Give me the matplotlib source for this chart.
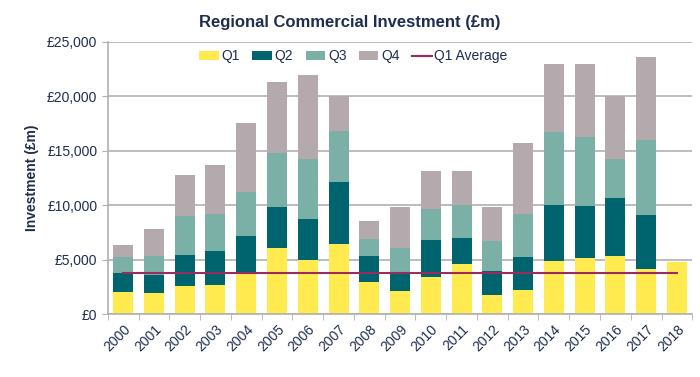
import matplotlib
matplotlib.use("Agg")
import matplotlib.pyplot as plt
import numpy as np
from matplotlib.ticker import FuncFormatter, MultipleLocator

plt.rcParams['font.family'] = ['Liberation Sans', 'DejaVu Sans']

years = [str(y) for y in range(2000, 2019)]
q1 = [2020, 1930, 2570, 2670, 3770, 6070, 4990, 6470, 2970, 2110, 3400, 4600, 1750, 2240, 4900, 5150, 5360, 4110, 4780]
q2 = [1750, 1690, 2880, 3160, 3400, 3800, 3740, 5640, 2390, 1660, 3400, 2420, 2180, 2970, 5150, 4810, 5300, 4990, 0]
q3 = [1440, 1750, 3520, 3400, 4080, 4900, 5550, 4720, 1560, 2330, 2880, 3030, 2760, 3980, 6680, 6280, 3550, 6860, 0]
q4 = [1160, 2480, 3830, 4500, 6280, 6500, 7720, 3190, 1620, 3740, 3460, 3100, 3160, 6530, 6250, 6740, 5790, 7660, 0]
q1_avg = 3780

navy = '#1f2d4f'
grid_c = '#b0b0b0'
colors = ['#ffeb4f', '#00646e', '#7ab0a6', '#b4a9ad']

fig = plt.figure(figsize=(7, 3.77), dpi=100)
ax = fig.add_axes([0.154, 0.167, 0.835, 0.722])

x = np.arange(len(years))
bottom = np.zeros(len(years))
handles = []
for vals, c, lab in zip([q1, q2, q3, q4], colors, ['Q1', 'Q2', 'Q3', 'Q4']):
    b = ax.bar(x, vals, 0.65, bottom=bottom, color=c, label=lab, zorder=2)
    handles.append(b)
    bottom += np.array(vals)

ln, = ax.plot([x[0], x[-1]], [q1_avg, q1_avg], color='#9b2a5e', lw=1.5, label='Q1 Average', zorder=3)
handles.append(ln)

ax.set_xlim(-0.5, len(years) - 0.5)
ax.set_ylim(0, 25000)
ax.yaxis.set_major_locator(MultipleLocator(5000))
ax.yaxis.set_major_formatter(FuncFormatter(lambda v, p: '£{:,.0f}'.format(v)))
ax.grid(axis='y', color=grid_c, lw=1.2, zorder=0)
ax.set_axisbelow(True)

ax.set_xticks(x)
ax.set_xticklabels(years, rotation=45, ha='right', rotation_mode='anchor')
ax.set_xticks(np.arange(-0.5, len(years)), minor=True)
ax.tick_params(axis='x', which='major', length=0, pad=6)
ax.tick_params(axis='x', which='minor', length=4, color=grid_c)
ax.tick_params(axis='y', length=4, color=grid_c)
ax.tick_params(labelsize=10, labelcolor=navy)

for s in ['top', 'right']:
    ax.spines[s].set_visible(False)
for s in ['left', 'bottom']:
    ax.spines[s].set_color(grid_c)
    ax.spines[s].set_linewidth(1.2)

ax.set_ylabel('Investment (£m)', fontsize=10, fontweight='bold', color=navy, labelpad=6)
fig.suptitle('Regional Commercial Investment (£m)', fontsize=12, fontweight='bold', color=navy, y=0.96)

leg = fig.legend(handles=handles, loc='center', bbox_to_anchor=(0.505, 0.851), ncol=5, frameon=False,
                 fontsize=10, handlelength=1.4, handleheight=0.6, handletextpad=0.2, columnspacing=0.9)
for t in leg.get_texts():
    t.set_color(navy)

fig.savefig('out.png', dpi=100)
